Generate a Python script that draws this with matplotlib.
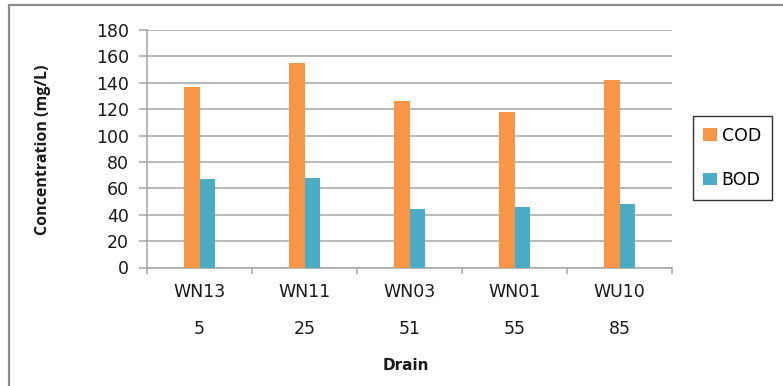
import matplotlib
matplotlib.use("Agg")
import matplotlib.pyplot as plt
import numpy as np
from matplotlib.patches import Rectangle
from matplotlib.ticker import FixedLocator, NullFormatter
import matplotlib.transforms as mtransforms

# Drain names, distances and measured concentrations
drains = ["WN13", "WN11", "WN03", "WN01", "WU10"]
distances = ["5", "25", "51", "55", "85"]
cod = [137, 155, 126, 118, 142]
bod = [67, 68, 44, 46, 48]

plt.rcParams["font.family"] = ["DejaVu Sans"]

W, H = 783, 386
fig = plt.figure(figsize=(W / 100, H / 100), dpi=100)
fig.patch.set_facecolor("white")

# Outer chart-area frame (only left and top edges fall inside the canvas)
fig.patches.append(Rectangle((9 / W, -0.05), 1.2, (H - 5) / H + 0.05,
                             transform=fig.transFigure, fill=False,
                             edgecolor="#8c8c8c", linewidth=1.6))

ax = fig.add_axes([147 / W, 1 - 267.5 / H, (672 - 147) / W, (267.5 - 30) / H])

x = np.arange(len(drains))
bw = 0.143
ax.bar(x - bw / 2, cod, bw, color="#F79646", label="COD", zorder=3)
ax.bar(x + bw / 2, bod, bw, color="#4BACC6", label="BOD", zorder=3)

ax.set_xlim(-0.5, len(drains) - 0.5)
ax.set_ylim(0, 180)
ax.set_yticks(np.arange(0, 181, 20))
ax.yaxis.grid(True, color="#a6a6a6", linewidth=1.1, zorder=0)
ax.set_axisbelow(True)

for s in ["top", "right"]:
    ax.spines[s].set_visible(False)
for s in ["left", "bottom"]:
    ax.spines[s].set_color("#a6a6a6")
    ax.spines[s].set_linewidth(1.1)

txt = "#1a1a1a"
fs = 12.5

# Category boundary tick marks, labels centred in each category
ax.xaxis.set_major_locator(FixedLocator(np.arange(-0.5, len(drains), 1.0)))
ax.xaxis.set_major_formatter(NullFormatter())
ax.xaxis.set_minor_locator(FixedLocator(x))
ax.set_xticklabels(drains, minor=True)
ax.tick_params(axis="x", which="major", length=4.5, color="#a6a6a6", width=1.1)
ax.tick_params(axis="x", which="minor", length=0, pad=11.5, labelsize=fs,
               labelcolor=txt)
ax.tick_params(axis="y", length=5.5, color="#a6a6a6", width=1.1, labelsize=fs,
               labelcolor=txt, pad=7.5)

# Second row of category labels: distances
trans = mtransforms.blended_transform_factory(ax.transData, fig.transFigure)
for xi, d in zip(x, distances):
    ax.text(xi, 1 - 329 / H, d, transform=trans, ha="center", va="center",
            fontsize=fs, color=txt)

fig.text(406 / W, 1 - 366 / H, "Drain", ha="center", va="center",
         fontsize=11, fontweight="bold", color=txt)
fig.text(43 / W, 1 - 150 / H, "Concentration (mg/L)", ha="center", va="center",
         rotation=90, fontsize=11.5, fontweight="bold", color=txt,
         family=["Open Sans", "DejaVu Sans"])

leg = ax.legend(loc="center left", bbox_to_anchor=(693 / W, 1 - 199 / H, 79 / W, 82 / H),
                bbox_transform=fig.transFigure, mode="expand", frameon=True,
                fancybox=False, edgecolor="#000000", fontsize=fs,
                handlelength=0.8, handleheight=0.7, handletextpad=0.25,
                labelspacing=1.55, borderaxespad=0, borderpad=0.6)
leg.get_frame().set_linewidth(1.0)

fig.savefig("out.png", dpi=100)
